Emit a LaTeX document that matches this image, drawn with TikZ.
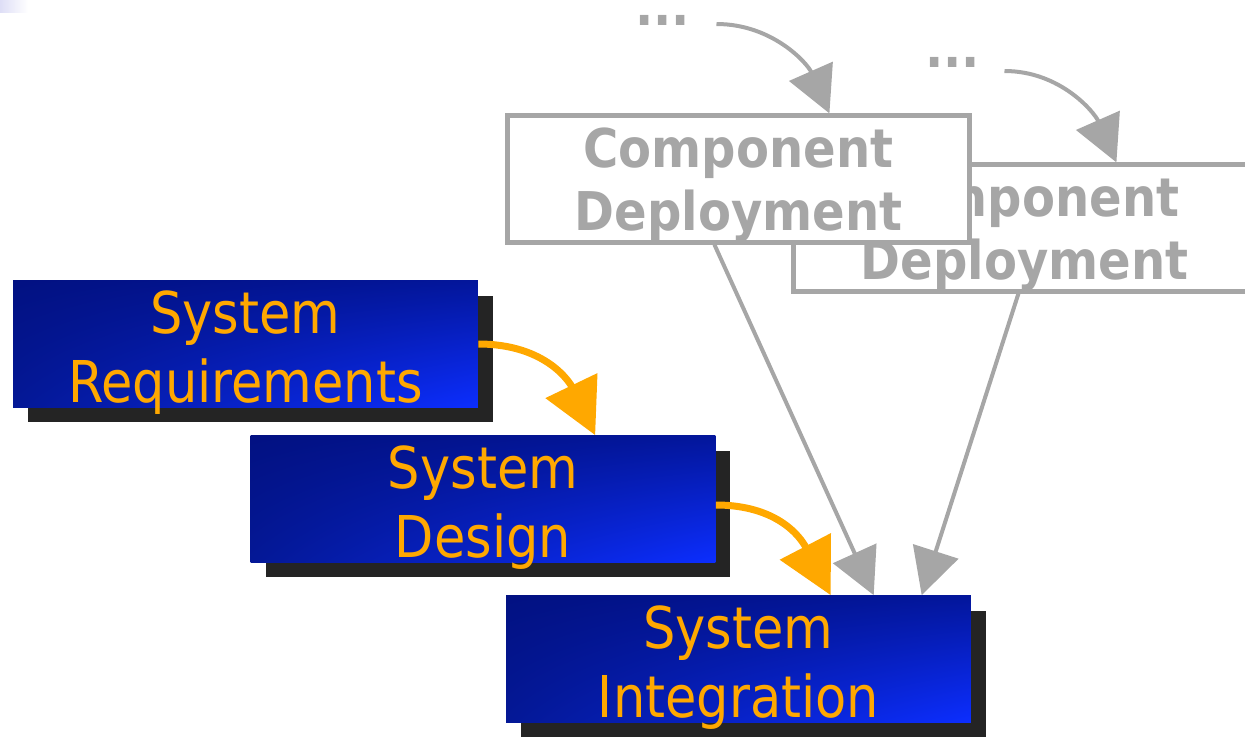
\documentclass[tikz,border=0pt]{standalone}
\usepackage{fontspec}
\usetikzlibrary{arrows.meta,shadows,shadings,calc}
\newfontfamily\boxfont[FakeStretch=0.885]{DejaVu Sans}
\newfontfamily\cdfont[FakeStretch=0.9]{DejaVu Sans}
\definecolor{cdgray}{RGB}{166,166,166}
\definecolor{sysorange}{RGB}{255,168,0}
\definecolor{boxnavy}{RGB}{2,17,130}
\definecolor{boxnavyr}{RGB}{3,22,155}
\definecolor{boxnavyl}{RGB}{4,24,150}
\definecolor{boxbright}{RGB}{12,46,255}
\definecolor{shadowgray}{RGB}{36,36,36}
\definecolor{cornerlav}{RGB}{222,222,246}
\newcommand\mystrut[1]{\rule{0pt}{#1}}
\begin{document}
\begin{tikzpicture}[x=0.02cm, y=-0.02cm,
  sysbox/.style={rectangle, inner xsep=0pt, inner ysep=-0.2cm, minimum width=9.3cm, minimum height=2.54cm,
    upper left=boxnavy, upper right=boxnavyr, lower left=boxnavyl, lower right=boxbright,
    drop shadow={shadow xshift=0.3cm, shadow yshift=-0.3cm, fill=shadowgray, opacity=1},
    text=sysorange, align=center, font=\boxfont\fontsize{32.8}{39.3}\selectfont},
  cdbox/.style={rectangle, inner xsep=0pt, inner ysep=-0.2cm, minimum width=9.24cm, minimum height=2.54cm,
    draw=cdgray, line width=0.085cm, fill=white, text=cdgray, align=center,
    font=\cdfont\bfseries\fontsize{30.4}{35.85}\selectfont},
  dotstext/.style={inner sep=0pt, anchor=base west, text=cdgray,
    font=\cdfont\bfseries\fontsize{30.4}{35.85}\selectfont},
  grayarrow/.style={draw=cdgray, line width=0.08cm, -{Triangle[length=0.92cm, width=0.94cm]}},
  orangearrow/.style={draw=sysorange, line width=0.14cm, -{Triangle[length=1.1cm, width=1.12cm]}},
]
\useasboundingbox (0,0) rectangle (1245,738);
\clip (0,0) rectangle (1245,738);
\shade[left color=cornerlav, right color=white] (0,0) rectangle (28,12);

% gray component deployment boxes
\node[cdbox] (cd2) at (1024.5,228) {\mystrut{29pt}Component\\Deployment};
\node[cdbox] (cd1) at (738.5,179) {\mystrut{29pt}Component\\Deployment};
\node[dotstext] (dots1) at (635,25) {...};
\node[dotstext] (dots2) at (925,67) {...};

% blue system boxes
\node[sysbox] (req) at (245.5,344) {\mystrut{33.8pt}System\\Requirements};
\node[sysbox] (design) at (483,499) {\mystrut{33.8pt}System\\Design};
\node[sysbox] (integ) at (738.5,659) {\mystrut{33.8pt}System\\Integration};

% gray connectors
\draw[grayarrow] ($(dots1.base east)+(26,-1)$) .. controls +(56,0) and +(-22,-50) .. ($(cd1.north west)+(324,0)$);
\draw[grayarrow] ($(dots2.base east)+(24,4)$) .. controls +(56,0) and +(-22,-50) .. ($(cd2.north west)+(325,0)$);
\draw[grayarrow] ($(cd1.south west)+(209,0)$) -- ($(integ.north west)+(368,0)$);
\draw[grayarrow] ($(cd2.south west)+(227,0)$) -- ($(integ.north west)+(416,0)$);

% orange connectors
\draw[orangearrow] (req.east) .. controls +(70,0) and +(-24,-50) .. ($(design.north west)+(345,0)$);
\draw[orangearrow] ($(design.east)+(0,6)$) .. controls +(69,0) and +(-26,-50) .. ($(integ.north west)+(325,0)$);
\end{tikzpicture}
\end{document}
